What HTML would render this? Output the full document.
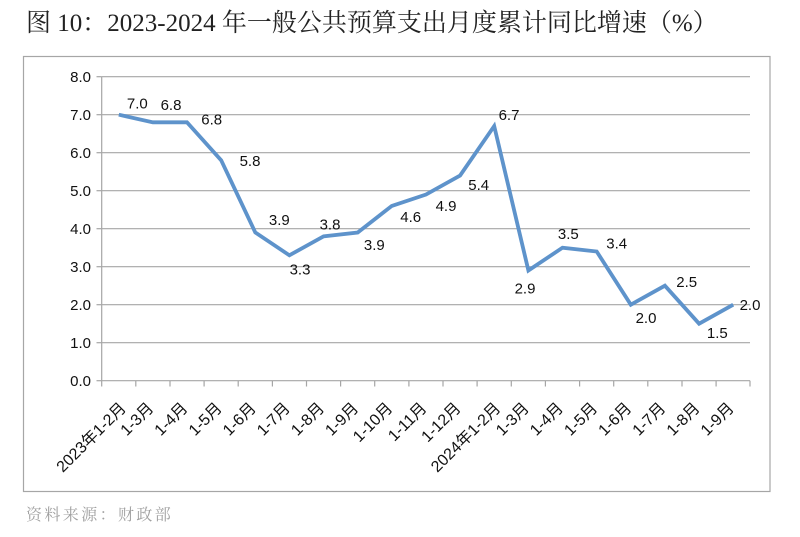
<!DOCTYPE html>
<html>
<head>
<meta charset="utf-8">
<style>
  html,body{margin:0;padding:0;background:#fff;}
  body{width:800px;height:537px;overflow:hidden;position:relative;}
  svg{position:absolute;left:0;top:0;}
</style>
</head>
<body>
<svg width="800" height="537" viewBox="0 0 800 537" xmlns="http://www.w3.org/2000/svg">
  <!-- Title -->
  <text x="26" y="31" font-family="'Liberation Serif','Noto Serif CJK SC',serif" font-size="25" fill="#222">图 10：2023-2024 年一般公共预算支出月度累计同比增速（%）</text>

  <!-- outer chart border -->
  <rect x="23.5" y="56.5" width="746.5" height="435" fill="#fff" stroke="#a6a6a6" stroke-width="1.2"/>

  <!-- gridlines -->
  <g stroke="#a6a6a6" stroke-width="1.2">
    <line x1="101.7" y1="76.7" x2="750" y2="76.7"/>
    <line x1="101.7" y1="114.7" x2="750" y2="114.7"/>
    <line x1="101.7" y1="152.7" x2="750" y2="152.7"/>
    <line x1="101.7" y1="190.7" x2="750" y2="190.7"/>
    <line x1="101.7" y1="228.7" x2="750" y2="228.7"/>
    <line x1="101.7" y1="266.7" x2="750" y2="266.7"/>
    <line x1="101.7" y1="304.7" x2="750" y2="304.7"/>
    <line x1="101.7" y1="342.7" x2="750" y2="342.7"/>
    <line x1="101.7" y1="380.7" x2="750" y2="380.7"/>
    <line x1="101.7" y1="76.7" x2="101.7" y2="380.7"/>
    <line x1="96.5" y1="76.7" x2="101.7" y2="76.7"/>
    <line x1="96.5" y1="114.7" x2="101.7" y2="114.7"/>
    <line x1="96.5" y1="152.7" x2="101.7" y2="152.7"/>
    <line x1="96.5" y1="190.7" x2="101.7" y2="190.7"/>
    <line x1="96.5" y1="228.7" x2="101.7" y2="228.7"/>
    <line x1="96.5" y1="266.7" x2="101.7" y2="266.7"/>
    <line x1="96.5" y1="304.7" x2="101.7" y2="304.7"/>
    <line x1="96.5" y1="342.7" x2="101.7" y2="342.7"/>
    <line x1="96.5" y1="380.7" x2="101.7" y2="380.7"/>
    <line x1="101.7" y1="380.7" x2="101.7" y2="386.5"/>
    <line x1="135.8" y1="380.7" x2="135.8" y2="386.5"/>
    <line x1="170.0" y1="380.7" x2="170.0" y2="386.5"/>
    <line x1="204.1" y1="380.7" x2="204.1" y2="386.5"/>
    <line x1="238.2" y1="380.7" x2="238.2" y2="386.5"/>
    <line x1="272.4" y1="380.7" x2="272.4" y2="386.5"/>
    <line x1="306.5" y1="380.7" x2="306.5" y2="386.5"/>
    <line x1="340.6" y1="380.7" x2="340.6" y2="386.5"/>
    <line x1="374.7" y1="380.7" x2="374.7" y2="386.5"/>
    <line x1="408.9" y1="380.7" x2="408.9" y2="386.5"/>
    <line x1="443.0" y1="380.7" x2="443.0" y2="386.5"/>
    <line x1="477.1" y1="380.7" x2="477.1" y2="386.5"/>
    <line x1="511.3" y1="380.7" x2="511.3" y2="386.5"/>
    <line x1="545.4" y1="380.7" x2="545.4" y2="386.5"/>
    <line x1="579.6" y1="380.7" x2="579.6" y2="386.5"/>
    <line x1="613.7" y1="380.7" x2="613.7" y2="386.5"/>
    <line x1="647.8" y1="380.7" x2="647.8" y2="386.5"/>
    <line x1="682.0" y1="380.7" x2="682.0" y2="386.5"/>
    <line x1="716.1" y1="380.7" x2="716.1" y2="386.5"/>
    <line x1="750.0" y1="380.7" x2="750.0" y2="386.5"/>
  </g>

  <!-- y labels -->
  <g font-family="'Liberation Sans',sans-serif" font-size="15" fill="#111" text-anchor="end">
    <text x="91" y="82">8.0</text>
    <text x="91" y="120">7.0</text>
    <text x="91" y="158">6.0</text>
    <text x="91" y="196">5.0</text>
    <text x="91" y="234">4.0</text>
    <text x="91" y="272">3.0</text>
    <text x="91" y="310">2.0</text>
    <text x="91" y="348">1.0</text>
    <text x="91" y="386">0.0</text>
  </g>

  <!-- series line -->
  <polyline fill="none" stroke="#5e93cb" stroke-width="3.8" stroke-linejoin="miter" stroke-linecap="butt"
    points="118.8,114.7 152.9,122.3 187.0,122.3 221.2,160.3 255.3,232.5 289.4,255.3 323.6,236.3 357.7,232.5 391.8,205.9 426.0,194.5 460.1,175.5 494.2,126.1 528.4,270.5 562.5,247.7 596.7,251.5 630.8,304.7 664.9,285.7 699.1,323.7 733.2,304.7"/>

  <!-- data labels -->
  <g font-family="'Liberation Sans',sans-serif" font-size="15" fill="#111" text-anchor="middle">
    <text x="137.3" y="108.5">7.0</text>
    <text x="171" y="110">6.8</text>
    <text x="211.7" y="124.5">6.8</text>
    <text x="250" y="166">5.8</text>
    <text x="279.3" y="225">3.9</text>
    <text x="300" y="274.5">3.3</text>
    <text x="330" y="229.5">3.8</text>
    <text x="374.3" y="250">3.9</text>
    <text x="410.7" y="222">4.6</text>
    <text x="446" y="211">4.9</text>
    <text x="478.7" y="190">5.4</text>
    <text x="509" y="120">6.7</text>
    <text x="525" y="293.5">2.9</text>
    <text x="568.3" y="239">3.5</text>
    <text x="616.7" y="248.5">3.4</text>
    <text x="646" y="323">2.0</text>
    <text x="686.7" y="287">2.5</text>
    <text x="717.3" y="338">1.5</text>
    <text x="750" y="310">2.0</text>
  </g>

  <!-- x labels -->
  <g font-family="'Liberation Sans','Noto Sans CJK SC',sans-serif" font-size="16" fill="#111" text-anchor="end">
    <text transform="translate(127,409) rotate(-45)">2023年1-2月</text>
    <text transform="translate(154.5,409) rotate(-45)">1-3月</text>
    <text transform="translate(188.6,409) rotate(-45)">1-4月</text>
    <text transform="translate(222.8,409) rotate(-45)">1-5月</text>
    <text transform="translate(256.9,409) rotate(-45)">1-6月</text>
    <text transform="translate(291.0,409) rotate(-45)">1-7月</text>
    <text transform="translate(325.2,409) rotate(-45)">1-8月</text>
    <text transform="translate(359.3,409) rotate(-45)">1-9月</text>
    <text transform="translate(393.4,409) rotate(-45)">1-10月</text>
    <text transform="translate(427.6,409) rotate(-45)">1-11月</text>
    <text transform="translate(461.7,409) rotate(-45)">1-12月</text>
    <text transform="translate(501.5,409) rotate(-45)">2024年1-2月</text>
    <text transform="translate(530.0,409) rotate(-45)">1-3月</text>
    <text transform="translate(564.1,409) rotate(-45)">1-4月</text>
    <text transform="translate(598.3,409) rotate(-45)">1-5月</text>
    <text transform="translate(632.4,409) rotate(-45)">1-6月</text>
    <text transform="translate(666.5,409) rotate(-45)">1-7月</text>
    <text transform="translate(700.7,409) rotate(-45)">1-8月</text>
    <text transform="translate(734.8,409) rotate(-45)">1-9月</text>
  </g>

  <!-- source -->
  <text x="26" y="520" font-family="'Liberation Serif','Noto Serif CJK SC',serif" font-size="16" letter-spacing="2.4" fill="#a0a0a0">资料来源：财政部</text>
</svg>
</body>
</html>
